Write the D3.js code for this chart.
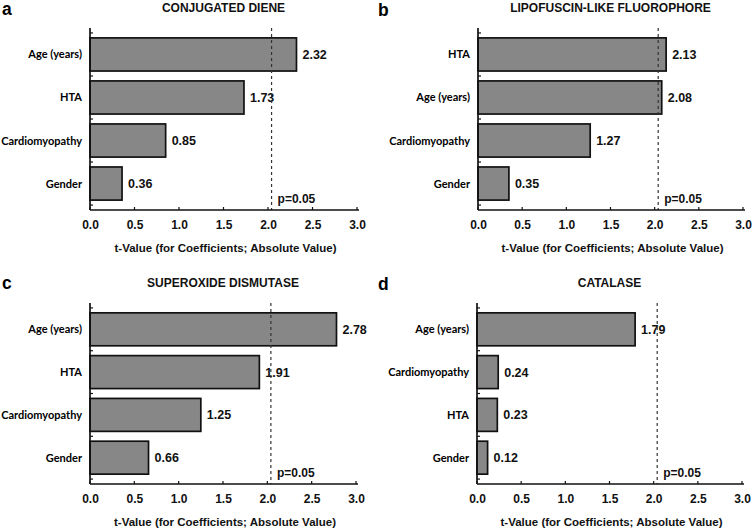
<!DOCTYPE html>
<html><head><meta charset="utf-8">
<script src="https://cdn.jsdelivr.net/npm/d3@7"></script>
<style>body{margin:0;background:#fff}svg{display:block}</style>
</head><body>
<svg id="chart" width="752" height="532"></svg>
<script>
// ---- data ----
const panelLetters = ["a", "b", "c", "d"];
const panelTitles = ["CONJUGATED DIENE", "LIPOFUSCIN-LIKE FLUOROPHORE", "SUPEROXIDE DISMUTASE", "CATALASE"];
const catsA = ["Age (years)", "HTA", "Cardiomyopathy", "Gender"];
const valsA = [2.32, 1.73, 0.85, 0.36];
const catsB = ["HTA", "Age (years)", "Cardiomyopathy", "Gender"];
const valsB = [2.13, 2.08, 1.27, 0.35];
const catsC = ["Age (years)", "HTA", "Cardiomyopathy", "Gender"];
const valsC = [2.78, 1.91, 1.25, 0.66];
const catsD = ["Age (years)", "Cardiomyopathy", "HTA", "Gender"];
const valsD = [1.79, 0.24, 0.23, 0.12];
const xTicks = [0, 0.5, 1.0, 1.5, 2.0, 2.5, 3.0];
const pThreshold = 2.04;
const pLabel = "p=0.05";
const xAxisTitle = "t-Value (for Coefficients; Absolute Value)";

// ---- layout ----
const layouts = [
  {x0: 90,  x1: 357, yTop: 28,  yBot: 210, letterX: 2,   letterY: 15},
  {x0: 478, x1: 743, yTop: 28,  yBot: 210, letterX: 378, letterY: 16},
  {x0: 90,  x1: 356, yTop: 303, yBot: 484, letterX: 2,   letterY: 289},
  {x0: 477, x1: 742, yTop: 303, yBot: 484, letterX: 378, letterY: 290}
];
const catsList = [catsA, catsB, catsC, catsD];
const valsList = [valsA, valsB, valsC, valsD];

const svg = d3.select("#chart");
const sans = "'Liberation Sans', Arial, Helvetica, sans-serif";
const labFont = "Lato, 'Open Sans', sans-serif";

layouts.forEach((L, i) => {
  const cats = catsList[i], vals = valsList[i];
  const g = svg.append("g");
  const x = d3.scaleLinear().domain([0, 3]).range([L.x0, L.x1]);
  const y = d3.scaleBand().domain(cats).range([L.yTop, L.yBot]).paddingInner(0.23).paddingOuter(0.23);
  const gap = y.step() * 0.23 / 2;

  // letter
  g.append("text").attr("x", L.letterX).attr("y", L.letterY)
    .attr("font-family", sans).attr("font-weight", "bold").attr("font-size", 17.5)
    .text(panelLetters[i]);
  // title
  g.append("text").attr("x", (L.x0 + L.x1) / 2).attr("y", L.yTop - 16)
    .attr("text-anchor", "middle").attr("font-family", sans).attr("font-weight", "bold")
    .attr("font-size", 12).attr("fill", "#111").text(panelTitles[i]);

  // bars
  g.selectAll("rect.bar").data(cats).enter().append("rect")
    .attr("x", x(0)).attr("y", d => y(d))
    .attr("width", (d, j) => x(vals[j]) - x(0)).attr("height", y.bandwidth())
    .attr("fill", "#878787").attr("stroke", "#111").attr("stroke-width", 1.7);

  // value labels
  g.selectAll("text.val").data(cats).enter().append("text")
    .attr("x", (d, j) => x(vals[j]) + 6).attr("y", d => y(d) + y.bandwidth() / 2 + 4.5)
    .attr("font-family", sans).attr("font-weight", "bold").attr("font-size", 12.5)
    .attr("fill", "#111").text((d, j) => vals[j].toFixed(2));

  // dashed threshold
  g.append("line").attr("x1", x(pThreshold)).attr("x2", x(pThreshold))
    .attr("y1", L.yTop).attr("y2", L.yBot)
    .attr("stroke", "#333").attr("stroke-width", 1.2).attr("stroke-dasharray", "3,3");
  g.append("text").attr("x", x(pThreshold) + 6).attr("y", L.yBot - 7)
    .attr("font-family", sans).attr("font-weight", "bold").attr("font-size", 12)
    .attr("fill", "#111").text(pLabel);

  // category labels
  g.selectAll("text.cat").data(cats).enter().append("text")
    .attr("x", L.x0 - 8).attr("y", d => y(d) + y.bandwidth() / 2 + 4)
    .attr("text-anchor", "end").attr("font-family", labFont).attr("font-weight", "bold")
    .attr("font-size", 11).attr("fill", "#000").text(d => d);

  // y axis line + ticks at band boundaries
  g.append("line").attr("x1", L.x0).attr("x2", L.x0).attr("y1", L.yTop).attr("y2", L.yBot)
    .attr("stroke", "#111").attr("stroke-width", 1.7);
  const yTickPos = cats.map(c => y(c) - gap).concat([y(cats[cats.length - 1]) + y.bandwidth() + gap]);
  g.selectAll("line.yt").data(yTickPos).enter().append("line")
    .attr("x1", L.x0).attr("x2", L.x0 + 3).attr("y1", d => d).attr("y2", d => d)
    .attr("stroke", "#111").attr("stroke-width", 1.2);

  // x axis
  const xa = d3.axisBottom(x).tickValues(xTicks).tickSize(0).tickPadding(10)
    .tickFormat(d3.format(".1f"));
  const ax = g.append("g").attr("transform", `translate(0,${L.yBot})`).call(xa);
  ax.select(".domain").attr("stroke", "#111").attr("stroke-width", 1.7)
    .attr("d", `M${L.x0},0H${L.x1 + 2}`);
  ax.selectAll("text").attr("font-family", sans).attr("font-weight", "bold")
    .attr("font-size", 12).attr("fill", "#111");
  g.selectAll("line.xt").data(xTicks).enter().append("line")
    .attr("x1", d => x(d)).attr("x2", d => x(d)).attr("y1", L.yBot).attr("y2", L.yBot - 3)
    .attr("stroke", "#111").attr("stroke-width", 1.2);

  g.append("text").attr("x", (L.x0 + L.x1) / 2 + 2).attr("y", L.yBot + 42)
    .attr("text-anchor", "middle").attr("font-family", sans).attr("font-weight", "bold")
    .attr("font-size", 11.5).attr("fill", "#111").text(xAxisTitle);
});
</script>
</body></html>
